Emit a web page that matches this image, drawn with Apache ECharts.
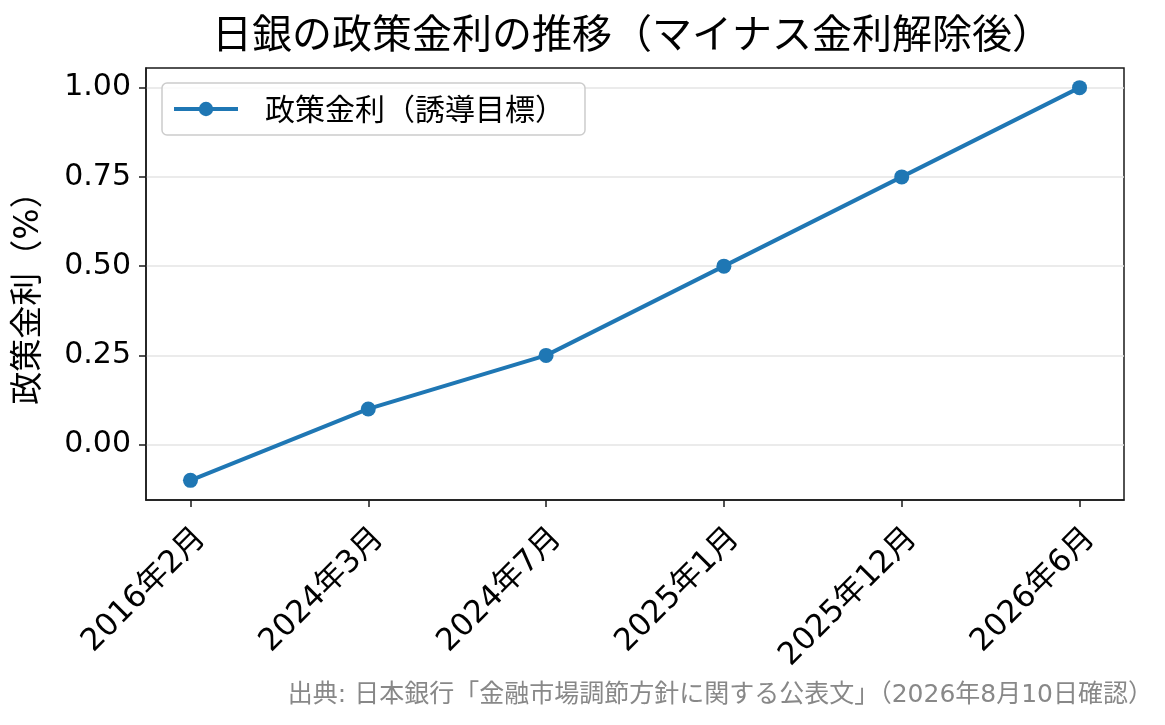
<!DOCTYPE html>
<html>
<head>
<meta charset="utf-8">
<script src="https://cdn.jsdelivr.net/npm/echarts@6/dist/echarts.min.js"></script>
<style>
html,body{margin:0;padding:0;background:#fff;}
#c{width:1165px;height:725px;}
</style>
</head>
<body>
<div id="c"></div>
<script>
const categories = ['2016年2月','2024年3月','2024年7月','2025年1月','2025年12月','2026年6月'];
const rates = [-0.1, 0.1, 0.25, 0.5, 0.75, 1.0];
const yTicks = [0, 0.25, 0.5, 0.75, 1.0];
const titleText = '日銀の政策金利の推移（マイナス金利解除後）';
const seriesName = '政策金利（誘導目標）';
const yAxisName = '政策金利（%）';
const sourceText = '出典: 日本銀行「金融市場調節方針に関する公表文」（2026年8月10日確認）';

const FONT = '"Noto Sans CJK JP", "Noto Sans", sans-serif';
const FONT_MIX = '"DejaVu Sans", "Noto Sans CJK JP", sans-serif';
const xIdx = categories.map((_, i) => i);
const points = rates.map((v, i) => [i, v]);

const chart = echarts.init(document.getElementById('c'), null, {renderer: 'canvas'});
chart.setOption({
  backgroundColor: '#fff',
  animation: false,
  textStyle: {fontFamily: FONT},
  title: {
    text: titleText,
    left: 627, top: 8, textAlign: 'center',
    textStyle: {fontFamily: FONT, fontSize: 40, fontWeight: 'normal', color: '#000'}
  },
  grid: {
    left: 146, right: 41, top: 68, bottom: 225,
    show: true, borderColor: '#1a1a1a', borderWidth: 1.5, backgroundColor: 'transparent'
  },
  legend: {
    left: 162, top: 83,
    padding: [11, 20, 11, 10],
    backgroundColor: 'rgba(255,255,255,0.8)',
    borderColor: '#cccccc', borderWidth: 1.5, borderRadius: 5,
    itemWidth: 64, itemHeight: 18,
    lineStyle: {width: 4},
    textStyle: {fontFamily: FONT, fontSize: 30, color: '#000', padding: [0,0,0,22]},
    data: [seriesName]
  },
  xAxis: {
    type: 'value', min: -0.25, max: 5.25,
    axisLine: {show: true, onZero: false, lineStyle: {color: '#1a1a1a', width: 1.5}},
    axisTick: {show: true, customValues: xIdx, length: 7, lineStyle: {color: '#1a1a1a', width: 1.5}},
    axisLabel: {
      customValues: xIdx, rotate: 45, margin: 23,
      verticalAlign: 'top', lineHeight: 30,
      fontFamily: FONT_MIX, fontSize: 31, color: '#000',
      formatter: v => categories[Math.round(v)]
    },
    splitLine: {show: false}
  },
  yAxis: {
    type: 'value', min: -0.155, max: 1.055,
    name: yAxisName, nameLocation: 'middle', nameGap: 100, nameRotate: 90,
    nameTextStyle: {fontFamily: FONT_MIX, fontSize: 33, color: '#000', padding: [0, 12, 0, 0]},
    axisLine: {show: true, onZero: false, lineStyle: {color: '#1a1a1a', width: 1.5}},
    axisTick: {show: true, customValues: yTicks, length: 7, lineStyle: {color: '#1a1a1a', width: 1.5}},
    axisLabel: {
      customValues: yTicks, margin: 15,
      fontFamily: FONT_MIX, fontSize: 30, color: '#000',
      formatter: v => v.toFixed(2)
    },
    splitLine: {show: true, lineStyle: {color: '#e5e5e5', width: 1.5}}
  },
  series: [{
    name: seriesName,
    type: 'line',
    data: points,
    symbol: 'circle', symbolSize: 15,
    itemStyle: {color: '#1f77b4'},
    lineStyle: {color: '#1f77b4', width: 4},
    z: 3
  }],
  graphic: [{
    type: 'text', right: 12, top: 683,
    style: {text: sourceText, fontFamily: FONT_MIX, fontSize: 25, fill: '#888888', textAlign: 'right'}
  }]
});
</script>
</body>
</html>
